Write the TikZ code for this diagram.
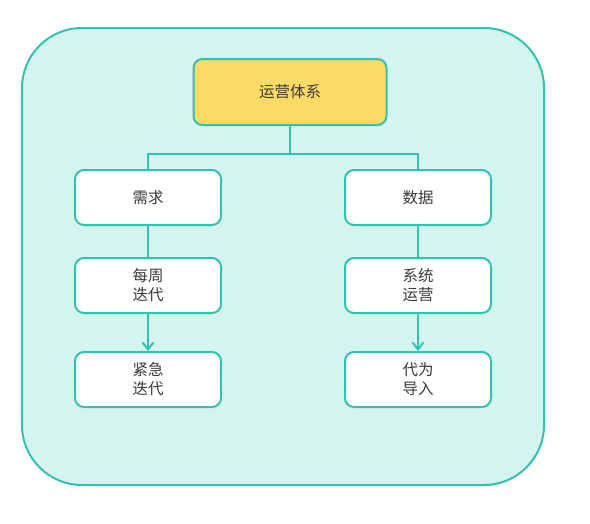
\documentclass[tikz,border=0pt]{standalone}
\usepackage{fontspec}
\newfontfamily\cjk{Noto Sans CJK SC}
\usetikzlibrary{arrows.meta}
\definecolor{linecol}{HTML}{33C2B2}
\definecolor{bgcol}{HTML}{D4F4F0}
\definecolor{topcol}{HTML}{FDD966}
\definecolor{textcol}{HTML}{3A3A3A}
\tikzset{
  box/.style={draw=linecol, line width=2pt, rounded corners=9pt, fill=white,
    minimum width=146pt, minimum height=55pt, inner sep=0pt, align=center,
    text=textcol, font=\cjk\fontsize{15.5}{19}\selectfont},
  link/.style={draw=linecol, line width=2pt}
}
\begin{document}
\begin{tikzpicture}[x=1pt,y=-1pt]
        \useasboundingbox (0,0) rectangle (590,523);
        \draw[linecol, fill=bgcol, line width=2pt, rounded corners=60pt] (22,28) rectangle (544,485);
        \node[box, fill=topcol, minimum width=193pt, minimum height=66pt] (top) at (290,92) {运营体系};
        \node[box] (need) at (148,197.5) {需求};
        \node[box] (data) at (418,197.5) {数据};
        \node[box] (week) at (148,285.5) {每周\\迭代};
        \node[box] (urgent) at (148,379.5) {紧急\\迭代};
        \node[box] (sys) at (418,285.5) {系统\\运营};
        \node[box] (proxy) at (418,379.5) {代为\\导入};
        \draw[link] (top.south) -- ++(0,28) coordinate (fork) -| (need.north);
        \draw[link] (fork) -| (data.north);
        \draw[link] (need) -- (week);
        \draw[link] (data) -- (sys);
        \draw[link,-{Straight Barb[length=7pt,width=11pt]}] (week) -- (urgent);
        \draw[link,-{Straight Barb[length=7pt,width=11pt]}] (sys) -- (proxy);
      \end{tikzpicture}
\end{document}
